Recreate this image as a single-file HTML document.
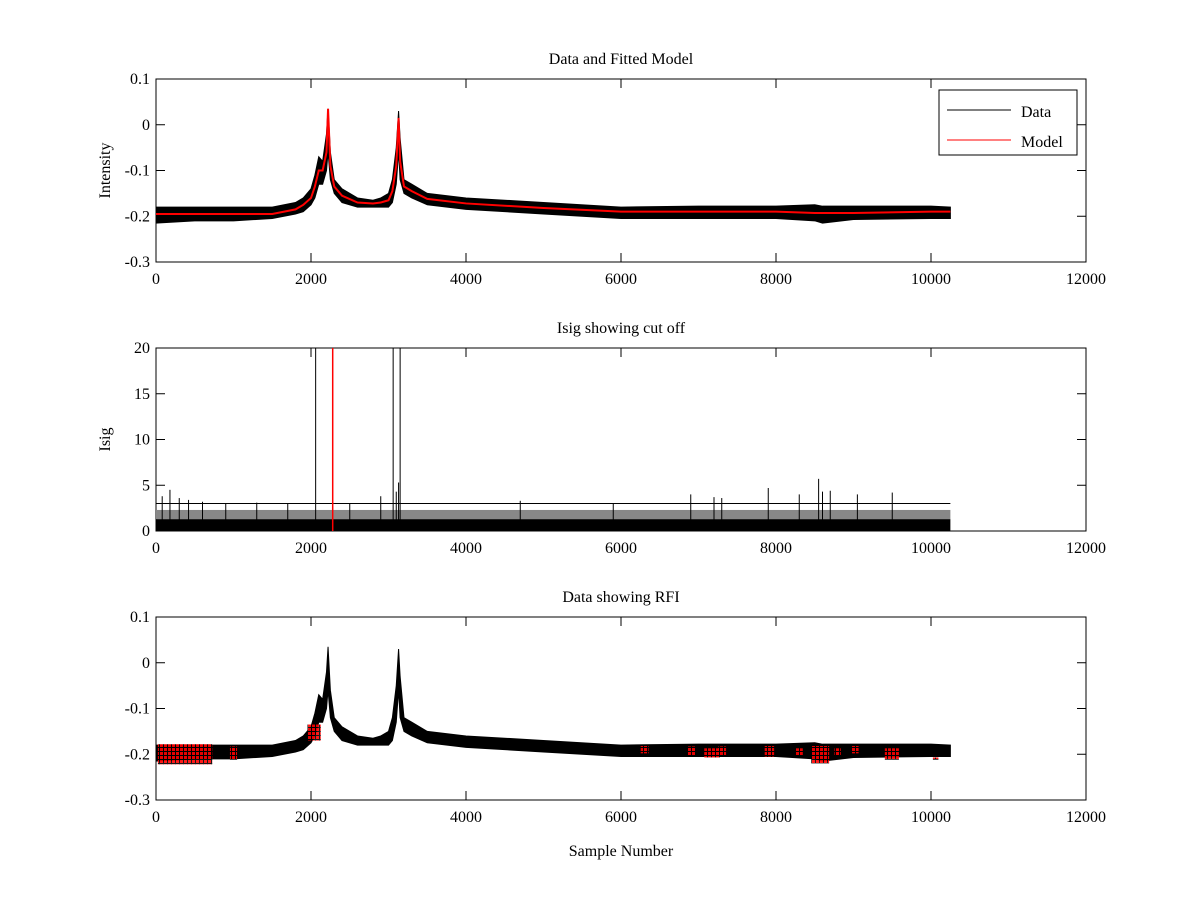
<!DOCTYPE html>
<html><head><meta charset="utf-8"><style>
html,body{margin:0;padding:0;background:#fff}
svg{display:block;font-family:"Liberation Serif",serif;font-size:16px}
</style></head><body>
<svg id="fig" width="1200" height="900" xmlns="http://www.w3.org/2000/svg">
<defs><pattern id="rfiPat" width="4" height="4" patternUnits="userSpaceOnUse"><rect width="4" height="4" fill="#000"/><rect width="3" height="3" fill="#f00"/></pattern></defs>
</svg>
<script>
// ---------- data ----------
const sampleX = [0,500,1000,1500,1800,1900,2000,2050,2100,2150,2200,2220,2250,2300,2400,2600,2800,2900,3000,3050,3100,3130,3150,3200,3300,3500,4000,5000,6000,7000,8000,8500,8600,9000,10000,10250];
const dataUpper = [-0.18,-0.18,-0.18,-0.18,-0.17,-0.16,-0.14,-0.11,-0.07,-0.08,-0.02,0.035,-0.06,-0.12,-0.14,-0.16,-0.165,-0.16,-0.15,-0.12,-0.05,0.03,-0.03,-0.12,-0.13,-0.15,-0.16,-0.17,-0.18,-0.178,-0.178,-0.175,-0.178,-0.178,-0.178,-0.18];
const dataLower = [-0.215,-0.21,-0.21,-0.205,-0.195,-0.19,-0.175,-0.16,-0.13,-0.13,-0.1,-0.06,-0.12,-0.15,-0.17,-0.18,-0.18,-0.18,-0.18,-0.17,-0.13,-0.06,-0.12,-0.15,-0.16,-0.175,-0.185,-0.195,-0.205,-0.205,-0.205,-0.21,-0.215,-0.207,-0.205,-0.205];
const modelY = [-0.195,-0.195,-0.195,-0.195,-0.185,-0.175,-0.16,-0.135,-0.1,-0.1,-0.06,0.035,-0.09,-0.135,-0.155,-0.17,-0.172,-0.17,-0.165,-0.145,-0.09,0.015,-0.08,-0.135,-0.145,-0.162,-0.172,-0.182,-0.19,-0.19,-0.19,-0.193,-0.193,-0.193,-0.19,-0.19];
const isigBandX = [0,10250];
const isigBandTop = [1.3,1.3];
const spikeX = [80,180,300,420,600,900,1300,1700,2500,2900,3100,3130,4700,5900,6900,7200,7300,7900,8300,8550,8600,8700,9050,9500];
const spikeH = [3.8,4.5,3.6,3.4,3.2,3.0,3.1,3.0,3.0,3.8,4.3,5.3,3.3,3.0,4.0,3.7,3.6,4.7,4.0,5.7,4.3,4.4,4.0,4.2];
const cutoff = 3;
const blackVert = [2060,3060,3150];
const redVert = [2280];
const rfiX0 = [50,980,1980,6280,6880,7100,7280,7880,8280,8480,8780,9000,9430,10050];
const rfiX1 = [700,1020,2100,6330,6930,7250,7330,7950,8320,8660,8810,9040,9560,10070];
const rfiLo = [-0.222,-0.212,-0.17,-0.198,-0.203,-0.207,-0.203,-0.205,-0.203,-0.22,-0.203,-0.198,-0.212,-0.212];
const rfiHi = [-0.178,-0.183,-0.135,-0.182,-0.183,-0.187,-0.183,-0.182,-0.187,-0.182,-0.187,-0.182,-0.187,-0.207];
const xTicks = [0,2000,4000,6000,8000,10000,12000];
const yTicks1 = [0.1,0,-0.1,-0.2,-0.3];
const yTicks2 = [20,15,10,5,0];

// ---------- drawing ----------
const svg = document.getElementById('fig');
const NS = 'http://www.w3.org/2000/svg';
function el(tag, attrs, parent){const e=document.createElementNS(NS,tag);for(const k in attrs)e.setAttribute(k,attrs[k]);(parent||svg).appendChild(e);return e;}
const X0=156,X1=1086;
const sx = v => X0 + (v/12000)*(X1-X0);
function mkY(top,bot,vmin,vmax){return v => bot - (v-vmin)/(vmax-vmin)*(bot-top);}

function axes(top,bot,sy,yt,title,ylabel,name){
  const g = el('g',{});
  
  
  el('rect',{x:X0,y:top,width:X1-X0,height:bot-top,fill:'none',stroke:'#000','stroke-width':1},g);
  xTicks.forEach(t=>{const x=sx(t);
    el('line',{x1:x,x2:x,y1:bot,y2:bot-9,stroke:'#000'},g);
    el('line',{x1:x,x2:x,y1:top,y2:top+9,stroke:'#000'},g);
    const tx=el('text',{x:x,y:bot+22,'text-anchor':'middle'},g);tx.textContent=t;
    
    });
  yt.forEach(t=>{const y=sy(t);
    el('line',{x1:X0,x2:X0+9,y1:y,y2:y,stroke:'#000'},g);
    el('line',{x1:X1,x2:X1-9,y1:y,y2:y,stroke:'#000'},g);
    const tx=el('text',{x:X0-6,y:y+5,'text-anchor':'end'},g);tx.textContent=t;
    
    });
  const ti=el('text',{x:621,y:top-15,'text-anchor':'middle'},g);ti.textContent=title;
  
  
  if(ylabel){const cy=(top+bot)/2;const yl=el('text',{x:0,y:0,'text-anchor':'middle',transform:`translate(${X0-46},${cy}) rotate(-90)`},g);yl.textContent=ylabel;
    
    }
  return g;
}
function band(sy,g,name){
  let d='';sampleX.forEach((x,i)=>{d+=(i?'L':'M')+sx(x)+' '+sy(dataUpper[i]);});
  for(let i=sampleX.length-1;i>=0;i--)d+='L'+sx(sampleX[i])+' '+sy(dataLower[i]);
  const p=el('path',{d:d+'Z',fill:'#000',stroke:'#000','stroke-width':1},g);
  
  
}
// Plot 1
const sy1 = mkY(79,262,-0.3,0.1);
const g1 = axes(79,262,sy1,yTicks1,'Data and Fitted Model','Intensity','plot-data-model');
band(sy1,g1,'data-series');
const mp=el('polyline',{points:sampleX.map((x,i)=>sx(x)+','+sy1(modelY[i])).join(' '),fill:'none',stroke:'#f00','stroke-width':2},g1);


const lg=el('g',{},g1);


el('rect',{x:939,y:90,width:138,height:65,fill:'#fff',stroke:'#000'},lg);
el('line',{x1:947,x2:1011,y1:110,y2:110,stroke:'#000'},lg);
el('line',{x1:947,x2:1011,y1:140,y2:140,stroke:'#f00'},lg);
const l1=el('text',{x:1021,y:117},lg);l1.textContent='Data';


const l2=el('text',{x:1021,y:147},lg);l2.textContent='Model';



// Plot 2
const sy2 = mkY(348,531,0,20);
const g2 = axes(348,531,sy2,yTicks2,'Isig showing cut off','Isig','plot-isig');
el('rect',{x:sx(isigBandX[0]),y:sy2(isigBandTop[0]),width:sx(isigBandX[1])-sx(isigBandX[0]),height:sy2(0)-sy2(isigBandTop[0]),fill:'#000'},g2);
el('rect',{x:sx(isigBandX[0]),y:sy2(2.3),width:sx(isigBandX[1])-sx(isigBandX[0]),height:sy2(isigBandTop[0])-sy2(2.3),fill:'#888'},g2);
spikeX.forEach((x,i)=>{const s=el('line',{x1:sx(x),x2:sx(x),y1:sy2(0),y2:sy2(spikeH[i]),stroke:'#000'},g2);
  
  });
const cl=el('line',{x1:sx(0),x2:sx(10250),y1:sy2(cutoff),y2:sy2(cutoff),stroke:'#000'},g2);


blackVert.forEach(x=>{const s=el('line',{x1:sx(x),x2:sx(x),y1:sy2(0),y2:sy2(20),stroke:'#000'},g2);
  
  });
redVert.forEach(x=>{const s=el('line',{x1:sx(x),x2:sx(x),y1:sy2(0),y2:sy2(20),stroke:'#f00','stroke-width':1.5},g2);
  
  });

// Plot 3
const sy3 = mkY(617,800,-0.3,0.1);
const g3 = axes(617,800,sy3,yTicks1,'Data showing RFI','','plot-rfi');
band(sy3,g3,'data-series-rfi');
rfiX0.forEach((x,i)=>{const r=el('rect',{x:sx(x)-2,y:sy3(rfiHi[i]),width:Math.max(4,sx(rfiX1[i])-sx(x)+4),height:sy3(rfiLo[i])-sy3(rfiHi[i]),fill:'url(#rfiPat)',opacity:0.9},g3);
  
  });
const xl=el('text',{x:621,y:856,'text-anchor':'middle'});xl.textContent='Sample Number';


</script>
</body></html>
